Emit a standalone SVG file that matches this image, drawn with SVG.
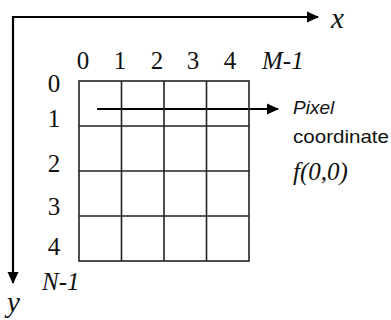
<svg xmlns="http://www.w3.org/2000/svg" width="391" height="320" viewBox="0 0 391 320">
  <style>
    .axis { stroke: #000; stroke-width: 2.2; fill: none; }
    .grid { stroke: #222; stroke-width: 1.6; fill: none; }
    .num { font-family: "Liberation Serif", "DejaVu Serif", serif; font-size: 25px; fill: #111; text-anchor: middle; }
    .var { font-family: "Liberation Serif", "DejaVu Serif", serif; font-style: italic; font-size: 25px; fill: #111; }
    .ax { font-size: 29px; }
    .note { font-family: "Liberation Sans", Arial, sans-serif; font-size: 19px; fill: #111; }
  </style>
  <defs>
    <marker id="head" viewBox="0 0 12 12" refX="11" refY="6" markerWidth="12" markerHeight="12" orient="auto" markerUnits="userSpaceOnUse">
      <path d="M0,0.5 L12,6 L0,11.5 Z" fill="#000"/>
    </marker>
  </defs>

  <!-- coordinate axes and the row-scan arrow -->
  <g id="connectors">
    <path class="axis" d="M12,17 L318,17" marker-end="url(#head)"/>
    <path class="axis" d="M13,16 L13,283" marker-end="url(#head)"/>
    <path class="axis" d="M97,109 L278,109" marker-end="url(#head)"/>
  </g>

  <!-- pixel grid -->
  <g id="grid">
    <rect class="grid" x="79" y="81" width="170" height="180"/>
    <path class="grid" d="M121.5,81 V261 M164,81 V261 M206.5,81 V261 M79,126 H249 M79,171 H249 M79,216 H249"/>
  </g>

  <g id="axis-labels">
    <text class="var ax" x="331" y="28">x</text>
    <text class="var ax" x="7" y="312">y</text>
  </g>

  <g id="column-indices">
    <text class="num" x="83" y="69">0</text>
    <text class="num" x="120" y="69">1</text>
    <text class="num" x="157" y="69">2</text>
    <text class="num" x="193" y="69">3</text>
    <text class="num" x="230" y="69">4</text>
    <text class="var" x="262" y="69">M-1</text>
  </g>

  <g id="row-indices">
    <text class="num" x="54" y="92">0</text>
    <text class="num" x="54" y="127">1</text>
    <text class="num" x="54" y="172">2</text>
    <text class="num" x="54" y="215">3</text>
    <text class="num" x="54" y="255">4</text>
    <text class="var" x="42" y="290">N-1</text>
  </g>

  <g id="pixel-label">
    <text class="note" x="293" y="114" font-style="italic">Pixel</text>
    <text class="note" x="293" y="143" textLength="96" lengthAdjust="spacingAndGlyphs">coordinate</text>
    <text class="var" x="293" y="180">f(0,0)</text>
  </g>
</svg>
